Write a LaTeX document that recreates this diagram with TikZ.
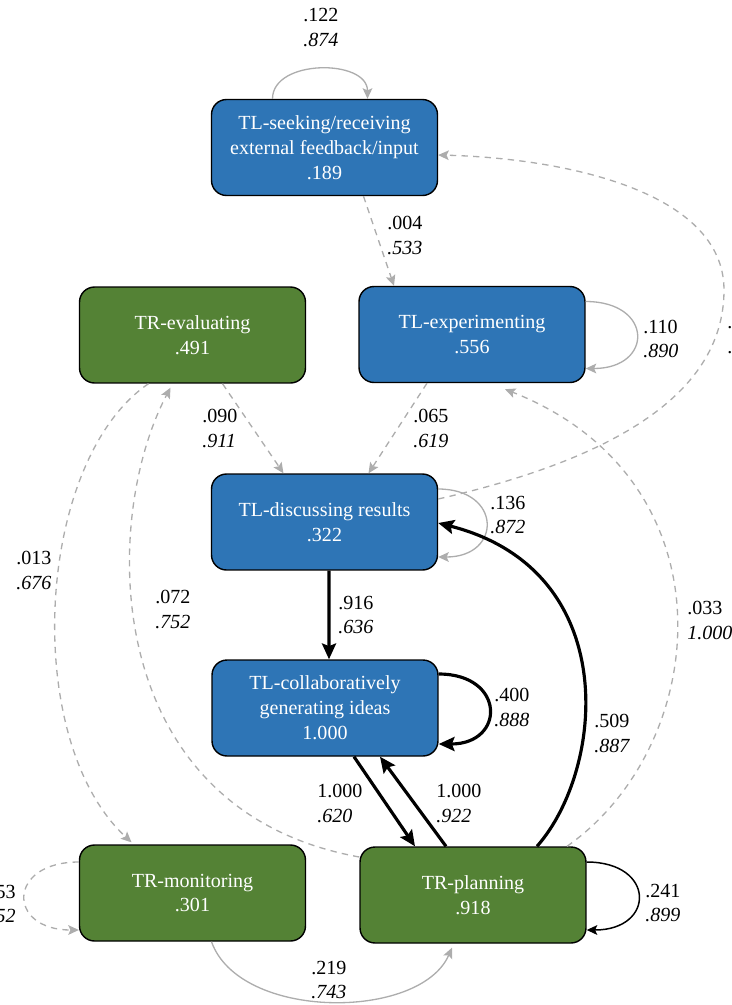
\documentclass[tikz,border=0pt]{standalone}
\usepackage{fontspec}
\setmainfont{Liberation Serif}
\usetikzlibrary{arrows.meta,calc}
\definecolor{tlblue}{HTML}{2E75B6}
\definecolor{trgreen}{HTML}{548235}
\definecolor{pathgray}{HTML}{ADADAD}
\begin{document}
\begin{tikzpicture}[x=0.02cm, y=-0.02cm,
  >={Stealth[length=6pt,width=5.5pt,inset=1.2pt]},
  state/.style={draw=black, line width=0.8pt, rounded corners=0.3cm, minimum width=4.52cm, minimum height=1.92cm, align=center, text=white, font=\fontsize{11.4}{14.2}\selectfont},
  tl/.style={state, fill=tlblue},
  tr/.style={state, fill=trgreen},
  lbl/.style={anchor=west, align=left, inner sep=0pt, font=\fontsize{11.4}{14.2}\selectfont},
  weak/.style={->, draw=pathgray, line width=0.75pt},
  faint/.style={weak, dash pattern=on 3.6pt off 3pt},
  strong/.style={-{Stealth[length=9pt,width=8pt,inset=1.5pt]}, line width=1.8pt},
]
\useasboundingbox (0,0) rectangle (731,1005);

\node[tl] (seek) at (324.5,147.5) {TL-seeking/receiving\\external feedback/input\\.189};
\node[tr] (eval) at (192.5,335) {TR-evaluating\\.491};
\node[tl] (exp) at (472,334.5) {TL-experimenting\\.556};
\node[tl] (disc) at (324.5,522) {TL-discussing results\\.322};
\node[tl] (collab) at (325,708) {TL-collaboratively\\generating ideas\\1.000};
\node[tr] (mon) at (192.5,893) {TR-monitoring\\.301};
\node[tr] (plan) at (473,895) {TR-planning\\.918};

\draw[weak] ($(seek.north)+(-52,0)$) .. controls +(0,-40) and +(0,-40) .. ($(seek.north)+(43,0)$);
\draw[faint] ($(seek.south)+(39,0)$) -- ($(exp.north)+(-78,0)$);
\draw[weak] ($(exp.east)+(0,-33)$) .. controls +(68,0) and +(68,0) .. ($(exp.east)+(0,34)$);
\draw[faint] ($(disc.east)+(0,-23)$) .. controls (600,462) and (724,400) .. (724,290) .. controls (724,190) and (560,158) .. ($(seek.east)+(0,7.5)$);
\draw[faint] ($(eval.south)+(30,0)$) -- ($(disc.north)+(-41,0)$);
\draw[faint] ($(exp.south)+(-45,0)$) -- ($(disc.north)+(44,0)$);
\draw[weak] ($(disc.east)+(0,-33)$) .. controls +(64,0) and +(64,0) .. ($(disc.east)+(0,35)$);
\draw[strong] ($(disc.south)+(4.5,0)$) -- ($(collab.north)+(4,0)$);
\draw[strong] ($(collab.east)+(0,-34)$) .. controls +(67,0) and +(67,0) .. ($(collab.east)+(0,36)$);
\draw[strong] ($(collab.south)+(29,0)$) -- ($(plan.north)+(-58,0)$);
\draw[strong] ($(plan.north)+(-27,0)$) -- ($(collab.south)+(55,0)$);
\draw[strong] ($(plan.north)+(64,0)$) .. controls +(68,-77) and +(185,47) .. ($(disc.east)+(0,1)$);
\draw[faint] ($(plan.north)+(94,0)$) .. controls +(145,-102) and +(230,91) .. ($(exp.south)+(33,6)$);
\draw[faint] ($(eval.south)+(-44,0)$) .. controls +(-113,77) and +(-111,-103) .. ($(mon.north)+(-61,-2)$);
\draw[faint] ($(plan.west)+(0,-38)$) .. controls +(-260,-47) and +(-70,132) .. ($(eval.south)+(-22,4)$);
\draw[faint] ($(mon.west)+(0,-31)$) .. controls +(-72,0) and +(-72,0) .. ($(mon.west)+(0,37)$);
\draw[weak] ($(mon.south)+(19,0)$) .. controls +(28,79) and +(-32,73) .. ($(plan.south)+(-21,4)$);
\draw[->, line width=0.85pt] ($(plan.east)+(0,-33)$) .. controls +(69,0) and +(69,0) .. ($(plan.east)+(0,35)$);

\node[lbl] (l122) at (303,27.5) {.122\\\textit{.874}};
\node[lbl] (l004) at (387,235.5) {.004\\\textit{.533}};
\node[lbl] (l110) at (643,339) {.110\\\textit{.890}};
\node[lbl] (lcut) at (727,340) {.\\.};
\node[lbl] (l090) at (202,428) {.090\\\textit{.911}};
\node[lbl] (l065) at (413,428) {.065\\\textit{.619}};
\node[lbl] (l136) at (490,515) {.136\\\textit{.872}};
\node[lbl] (l916) at (338,615) {.916\\\textit{.636}};
\node[lbl] (l400) at (494,707.5) {.400\\\textit{.888}};
\node[lbl] (l1000a) at (317,803) {1.000\\\textit{.620}};
\node[lbl] (l1000b) at (436,803) {1.000\\\textit{.922}};
\node[lbl] (l509) at (594,733) {.509\\\textit{.887}};
\node[lbl] (l033) at (687,620.5) {.033\\\textit{1.000}};
\node[lbl] (l013) at (16,570.5) {.013\\\textit{.676}};
\node[lbl] (l072) at (155,609) {.072\\\textit{.752}};
\node[lbl, anchor=east] (l53) at (16,904) {.53\\\textit{.52}};
\node[lbl] (l219) at (311,980) {.219\\\textit{.743}};
\node[lbl] (l241) at (645,903) {.241\\\textit{.899}};
\end{tikzpicture}
\end{document}
